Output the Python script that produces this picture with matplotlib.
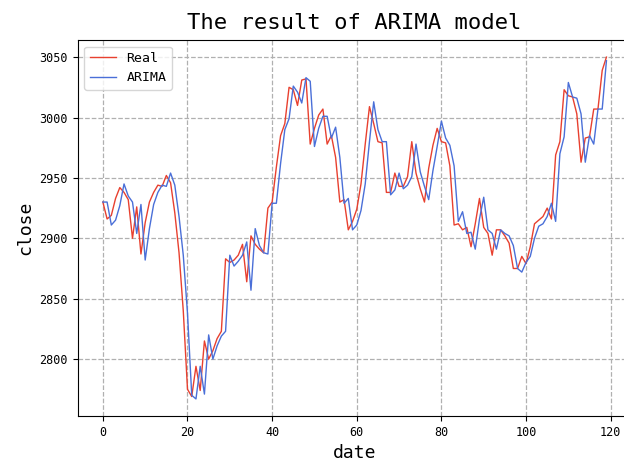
## ARIMA result plot: real close vs model prediction
import numpy as np
import matplotlib
matplotlib.use('Agg')
import matplotlib.pyplot as plt

plt.rcParams['font.family'] = ['DejaVu Sans Mono']

##------ data ------##
real = [2930, 2916, 2919, 2933, 2942, 2938, 2932, 2900, 2926, 2887,
        2913, 2930, 2938, 2944, 2943, 2952, 2946, 2921, 2888, 2840,
        2775, 2769, 2794, 2774, 2815, 2800, 2807, 2817, 2823, 2883,
        2880, 2882, 2886, 2895, 2864, 2902, 2895, 2891, 2888, 2925,
        2930, 2959, 2985, 2995, 3025, 3023, 3010, 3031, 3032, 2978,
        2991, 3002, 3007, 2978, 2985, 2967, 2930, 2932, 2907, 2914,
        2924, 2945, 2978, 3009, 2995, 2980, 2979, 2938, 2938, 2954,
        2943, 2943, 2951, 2980, 2954, 2941, 2930, 2958, 2977, 2991,
        2980, 2979, 2960, 2911, 2912, 2907, 2909, 2893, 2912, 2933,
        2909, 2904, 2886, 2907, 2907, 2902, 2896, 2875, 2875, 2885,
        2879, 2893, 2912, 2915, 2918, 2925, 2916, 2969, 2980, 3023,
        3018, 3017, 3003, 2963, 2983, 2984, 3007, 3007, 3039, 3050]

arima = [2930, 2930, 2911, 2915, 2927, 2945, 2935, 2930, 2904, 2928,
         2882, 2908, 2928, 2938, 2944, 2943, 2954, 2944, 2918, 2886,
         2838, 2770, 2767, 2794, 2771, 2820, 2800, 2811, 2819, 2823,
         2886, 2877, 2881, 2886, 2897, 2857, 2908, 2894, 2888, 2887,
         2929, 2929, 2962, 2990, 2999, 3026, 3021, 3012, 3033, 3030,
         2976, 2991, 3001, 3001, 2983, 2992, 2967, 2929, 2933, 2907,
         2911, 2923, 2945, 2980, 3013, 2990, 2980, 2980, 2936, 2940,
         2954, 2941, 2944, 2951, 2978, 2955, 2943, 2932, 2956, 2976,
         2997, 2983, 2977, 2960, 2914, 2922, 2904, 2905, 2891, 2916,
         2934, 2907, 2904, 2891, 2907, 2904, 2902, 2894, 2875, 2872,
         2880, 2885, 2900, 2910, 2912, 2918, 2929, 2914, 2970, 2984,
         3029, 3017, 3016, 3003, 2963, 2985, 2978, 3007, 3007, 3047]

date = np.arange(len(real))

##------ plot ------##
fig = plt.figure(figsize=(6.24, 4.72), dpi=100)
ax = fig.add_axes([0.1245, 0.1186, 0.8877, 0.7966])

ax.plot(date, real, color='#e8402f', linewidth=1, label='Real')
ax.plot(date, arima, color='#4a6fd8', linewidth=1, label='ARIMA')

ax.set_title('The result of ARIMA model', fontsize=16, pad=8)
ax.set_xlabel('date', fontsize=13)
ax.set_ylabel('close', fontsize=13)
ax.set_xticks([0, 20, 40, 60, 80, 100, 120])
ax.set_yticks([2800, 2850, 2900, 2950, 3000, 3050])
ax.tick_params(labelsize=8.5)

ax.grid(True, linestyle='--', color='#b0b0b0', linewidth=0.9)
ax.legend(loc='upper left', prop={'size': 9.5})

fig.savefig('out.png', dpi=100)
